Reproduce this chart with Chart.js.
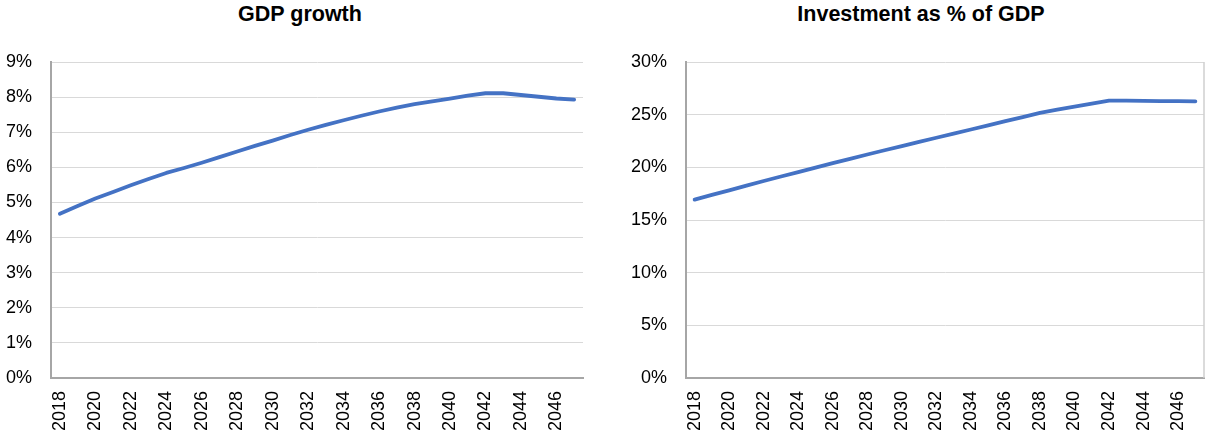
<!DOCTYPE html>
<html lang="en">
<head>
<meta charset="utf-8">
<title>GDP growth and investment</title>
<script src="https://cdn.jsdelivr.net/npm/chart.js@4.4.1/dist/chart.umd.min.js"></script>
<style>
  html, body { margin: 0; padding: 0; background: #fff; }
  body { width: 1207px; height: 441px; position: relative; overflow: hidden; }
  .title {
    position: absolute; top: 0; width: 600px; text-align: center;
    font-family: "Liberation Sans", Arial, sans-serif; font-weight: bold;
    font-size: 21.5px; line-height: 28px; color: #000;
  }
  canvas { position: absolute; top: 0; }
</style>
</head>
<body>
  <div class="title" style="left:0px">GDP growth</div>
  <div class="title" style="left:621px">Investment as % of GDP</div>
  <canvas id="gdpChart" width="600" height="441" style="left:0px"></canvas>
  <canvas id="invChart" width="597" height="441" style="left:610px"></canvas>
<script>
  // years 2018..2047, one point per year
  const years = [
    "2018", "2019", "2020", "2021", "2022", "2023", "2024", "2025", "2026", "2027",
    "2028", "2029", "2030", "2031", "2032", "2033", "2034", "2035", "2036", "2037",
    "2038", "2039", "2040", "2041", "2042", "2043", "2044", "2045", "2046", "2047"
  ];

  // GDP growth, %
  const gdpGrowth = [
    4.68, 4.90, 5.11, 5.30, 5.49, 5.67, 5.84, 5.98, 6.13, 6.29,
    6.45, 6.61, 6.76, 6.92, 7.07, 7.21, 7.34, 7.47, 7.59, 7.70,
    7.80, 7.88, 7.96, 8.04, 8.11, 8.11, 8.06, 8.01, 7.96, 7.93
  ];

  // investment as % of GDP
  const investment = [
    16.93, 17.38, 17.82, 18.26, 18.70, 19.13, 19.55, 19.98, 20.40, 20.81,
    21.22, 21.62, 22.02, 22.42, 22.81, 23.20, 23.59, 23.98, 24.38, 24.77,
    25.17, 25.48, 25.76, 26.05, 26.33, 26.33, 26.30, 26.28, 26.28, 26.27
  ];

  const gdpTicks = { min: 0, max: 9, step: 1 };
  const invTicks = { min: 0, max: 30, step: 5 };

  const lineColor = "#4472C4";
  const gridColor = "#D9D9D9";
  const axisColor = "#A6A6A6";
  const tickFont = { family: "'Liberation Sans', Arial, sans-serif", size: 18 };

  // light frame on the right edge of the plot area (second chart only)
  const rightFrame = {
    id: "rightFrame",
    afterDraw(chart) {
      const a = chart.chartArea;
      const ctx = chart.ctx;
      ctx.save();
      ctx.strokeStyle = "#CFCFCF";
      ctx.lineWidth = 1.5;
      ctx.beginPath();
      ctx.moveTo(a.right, a.top);
      ctx.lineTo(a.right, a.bottom);
      ctx.stroke();
      ctx.restore();
    }
  };

  function makeChart(id, values, yt, yWidth, padRight, plugins) {
    return new Chart(document.getElementById(id), {
      type: "line",
      data: {
        labels: years,
        datasets: [{
          data: values,
          borderColor: lineColor,
          borderWidth: 3.8,
          borderCapStyle: "round",
          borderJoinStyle: "round",
          pointRadius: 0,
          tension: 0,
          fill: false
        }]
      },
      options: {
        responsive: false,
        animation: false,
        layout: { padding: { top: 62, right: padRight, left: 0, bottom: 0 } },
        plugins: { legend: { display: false }, tooltip: { enabled: false }, title: { display: false } },
        scales: {
          x: {
            type: "category",
            offset: true,
            grid: { display: false, drawTicks: false },
            border: { display: true, color: axisColor, width: 2 },
            ticks: {
              autoSkip: false,
              minRotation: 90,
              maxRotation: 90,
              padding: 13,
              color: "#000",
              font: tickFont,
              callback: function (value, index) {
                return index % 2 === 0 ? this.getLabelForValue(value) : "";
              }
            },
            afterFit: (scale) => {
              scale.height = 63;
              scale.paddingLeft = 0;
              scale.paddingRight = 0;
            }
          },
          y: {
            min: yt.min,
            max: yt.max,
            grid: { color: gridColor, lineWidth: 1, drawTicks: false },
            border: { display: true, color: axisColor, width: 2 },
            ticks: {
              stepSize: yt.step,
              padding: 19,
              color: "#000",
              font: tickFont,
              callback: (v) => v + "%"
            },
            afterFit: (scale) => { scale.width = yWidth; }
          }
        }
      },
      plugins: plugins
    });
  }

  makeChart("gdpChart", gdpGrowth, gdpTicks, 51, 17, []);
  makeChart("invChart", investment, invTicks, 76, 3, [rightFrame]);
</script>
</body>
</html>
